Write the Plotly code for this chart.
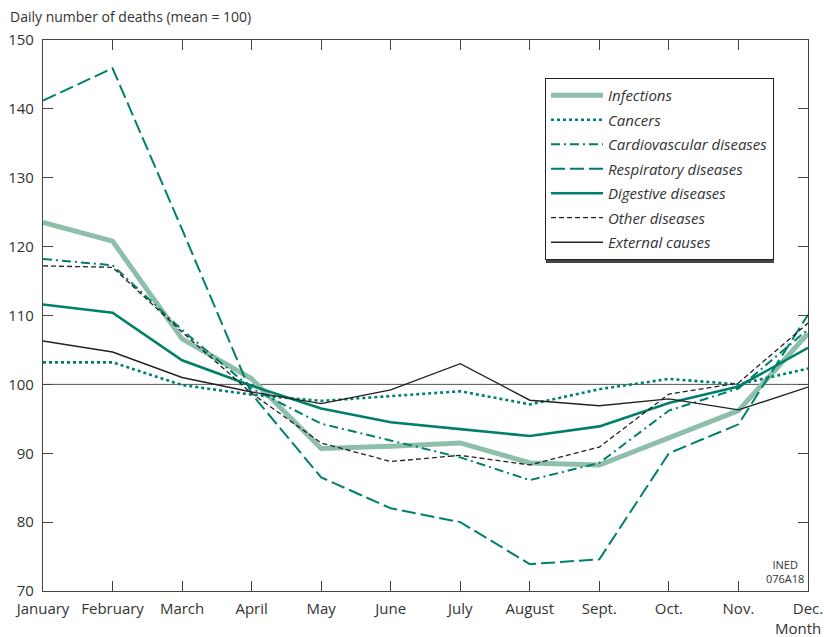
import plotly.graph_objects as go

months = ["January", "February", "March", "April", "May", "June", "July",
          "August", "Sept.", "Oct.", "Nov.", "Dec."]

infections = [123.5, 120.8, 106.6, 100.8, 90.7, 91.0, 91.5, 88.6, 88.3, 92.2, 96.2, 107.4]
cancers = [103.2, 103.2, 99.9, 98.5, 97.6, 98.3, 99.0, 97.1, 99.3, 100.8, 100.0, 102.3]
cardiovascular = [118.2, 117.3, 107.9, 99.4, 94.3, 91.9, 89.4, 86.1, 88.6, 96.2, 99.4, 108.0]
respiratory = [141.2, 145.9, 122.5, 98.6, 86.5, 82.0, 80.0, 73.9, 74.6, 90.0, 94.2, 110.1]
digestive = [111.6, 110.4, 103.5, 99.8, 96.5, 94.5, 93.5, 92.5, 93.9, 97.3, 99.7, 105.3]
other = [117.2, 117.0, 107.6, 98.7, 91.5, 88.8, 89.7, 88.3, 90.9, 98.6, 100.2, 108.9]
external = [106.3, 104.7, 101.0, 98.9, 97.2, 99.2, 103.0, 97.7, 96.9, 97.9, 96.3, 99.6]

TEAL = "#00806a"
LIGHT = "#8dbfaa"
FONT = "Open Sans"

series = [
    ("Infections", infections, dict(color=LIGHT, width=5)),
    ("Cancers", cancers, dict(color=TEAL, width=2.6, dash="dot")),
    ("Cardiovascular diseases", cardiovascular, dict(color=TEAL, width=2, dash="9px,4px,2px,4px")),
    ("Respiratory diseases", respiratory, dict(color=TEAL, width=2, dash="14px,5px")),
    ("Digestive diseases", digestive, dict(color=TEAL, width=2.6)),
    ("Other diseases", other, dict(color="#222222", width=1.3, dash="5px,3px")),
    ("External causes", external, dict(color="#222222", width=1.4)),
]

fig = go.Figure()

for name, vals, line in series:
    fig.add_trace(go.Scatter(
        x=months, y=vals,
        mode="lines",
        name=name,
        legendgroup=name,
        line=line,
    ))

fig.add_hline(y=100, line=dict(color="#555555", width=1), layer="below")

fig.add_annotation(
    text="Daily number of deaths (mean = 100)",
    xref="paper", yref="paper", x=-0.046, y=1.022,
    xanchor="left", yanchor="bottom", showarrow=False,
    font=dict(size=14, color="#333333", family=FONT),
)
fig.add_annotation(
    text="Month",
    xref="paper", yref="paper", x=1.019, y=-0.045,
    xanchor="right", yanchor="top", showarrow=False,
    font=dict(size=15, color="#333333", family=FONT),
)
fig.add_annotation(
    text="INED<br>076A18",
    xref="paper", yref="paper", x=0.997, y=0.005,
    xanchor="right", yanchor="bottom", showarrow=False,
    align="center",
    font=dict(size=11, color="#333333", family="Liberation Sans Narrow, " + FONT),
)

# legend drop shadow
fig.add_shape(
    type="rect", xref="paper", yref="paper",
    x0=0.6575, x1=0.9556, y0=0.5953, y1=0.9256,
    fillcolor="#444444", line=dict(width=0), layer="above",
)

fig.update_layout(
    width=824, height=637,
    margin=dict(l=43, r=16, t=40, b=46),
    plot_bgcolor="white",
    paper_bgcolor="white",
    font=dict(family=FONT, size=15, color="#333333"),
    showlegend=True,
    legend=dict(
        x=0.6562, y=0.9311, xanchor="left", yanchor="top",
        bgcolor="white", bordercolor="#222222", borderwidth=1,
        font=dict(size=15, style="italic", color="#333333"),
        itemwidth=52, tracegroupgap=2,
    ),
    xaxis=dict(
        type="category", range=[0, 11], automargin=False,
        showline=True, linecolor="#444444", linewidth=1.2, mirror="ticks",
        ticks="inside", ticklen=10, tickcolor="#444444",
        showgrid=False, zeroline=False, ticklabelstandoff=4,
    ),
    yaxis=dict(
        range=[70, 150], dtick=10, automargin=False,
        showline=True, linecolor="#444444", linewidth=1.2, mirror="ticks",
        ticks="inside", ticklen=10, tickcolor="#444444",
        showgrid=False, zeroline=False, ticklabelstandoff=5,
    ),
)

# drop the default 8px body margin so the 824x637 figure fills the window
fig.write_html(
    "out.html",
    config={"displayModeBar": False},
    post_script="document.body.style.margin = '0px';",
)
